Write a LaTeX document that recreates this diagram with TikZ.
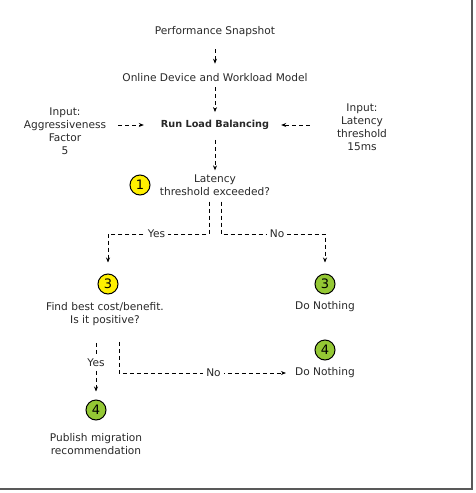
\documentclass[tikz,border=0pt]{standalone}
\usepackage{fontspec}
\setmainfont{DejaVu Sans}
\usetikzlibrary{arrows.meta, calc}
\definecolor{stepyellow}{RGB}{255,240,0}
\definecolor{stepgreen}{RGB}{148,200,52}
\definecolor{inktext}{RGB}{40,40,40}

\begin{document}
\begin{tikzpicture}[x=1pt, y=-1pt, >={Stealth[length=5pt,width=4pt]},
    every node/.style={font=\fontsize{10.6}{13}\selectfont, align=center, inner sep=1pt, text=inktext},
    flow/.style={->, dash pattern=on 4pt off 3pt, line width=0.7pt},
    lbl/.style={fill=white, inner sep=3pt},
    stepyel/.style={circle, draw, line width=1pt, fill=stepyellow, minimum size=20pt,
      inner sep=0pt, text=black, font=\fontsize{13}{13}\selectfont},
    stepgrn/.style={stepyel, fill=stepgreen}]
    \useasboundingbox (0,0) rectangle (476,493);

    % frame shadow
    \draw[black!65, line width=1.5pt] (0,489) -- (472,489) -- (472,0);

    % upper part
    \node (snap) at (215,32) {Performance Snapshot};
    \node (model) at (215,78) {Online Device and Workload Model};
    \node[font=\fontsize{9.7}{13}\selectfont\bfseries] (run) at (215,125) {Run Load Balancing};
    \node (aggr) at (65,131) {Input:\\Aggressiveness\\Factor\\5};
    \node (lat) at (362,127) {Input:\\Latency\\threshold\\15ms};
    \node (exceed) at (215,185) {Latency\\threshold exceeded?};
    \node[stepyel] (step1) at (140,185) {1};

    % second level
    \node[stepyel] (step3a) at (108,284) {3};
    \node (find) at (105,314) {Find best cost/benefit.\\Is it positive?};
    \node[stepgrn] (step3b) at (325,284) {3};
    \node (none1) at (325,307) {Do Nothing};

    % third level
    \node[stepgrn] (step4b) at (325,350) {4};
    \node (none2) at (325,373) {Do Nothing};
    \node[stepgrn] (step4a) at (96,410) {4};
    \node (publish) at (96,444) {Publish migration\\recommendation};

    \coordinate (fork) at (215,234);

    \draw[flow, shorten <=11pt, shorten >=9pt] (snap) -- (model);
    \draw[flow, shorten <=4pt, shorten >=7pt] (model) -- (run);
    \draw[flow, shorten <=11pt, shorten >=16pt] (aggr.east |- run.west) -- (run.west);
    \draw[flow, shorten <=26pt, shorten >=11pt] (lat.west |- run.east) -- (run.east);
    \draw[flow, shorten <=9pt, shorten >=3pt] (run) -- (exceed);

    \draw[flow, shorten <=5pt, shorten >=11pt]
      ([xshift=-6pt]exceed.south) -- ([xshift=-6pt]exceed.south |- fork)
      -| node[lbl, pos=0.26] {Yes} (step3a.north);
    \draw[flow, shorten <=5pt, shorten >=11pt]
      ([xshift=6pt]exceed.south) -- ([xshift=6pt]exceed.south |- fork)
      -| node[lbl, pos=0.27] {No} (step3b.north);

    \draw[flow, shorten <=16pt, shorten >=8pt]
      (step4a |- find.south) -- node[lbl] {Yes} (step4a.north);
    \draw[flow, shorten <=15pt, shorten >=8pt]
      ([xshift=14pt]find.south) |- node[lbl, pos=0.77] {No} (none2.west);
\end{tikzpicture}
\end{document}
